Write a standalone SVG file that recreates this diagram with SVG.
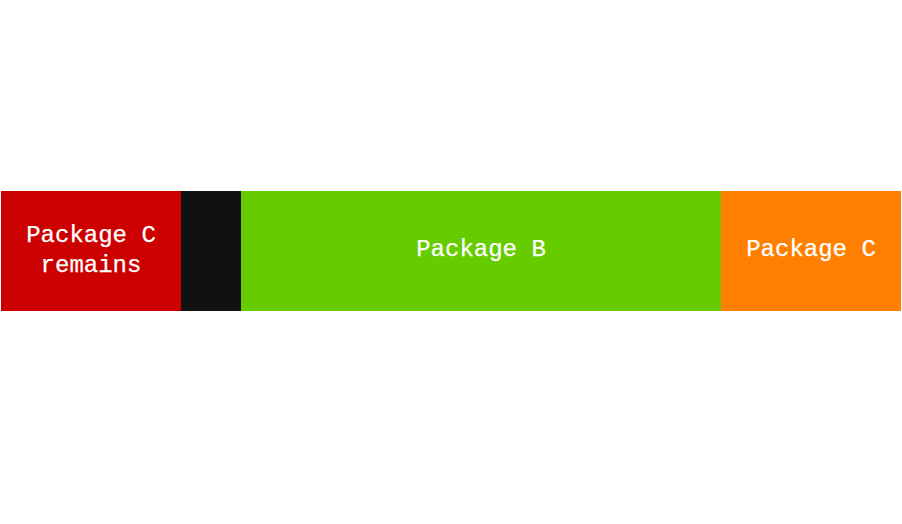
<svg xmlns="http://www.w3.org/2000/svg" width="902" height="524" viewBox="0 0 902 524">
<style>
text{font-family:"Liberation Mono","DejaVu Sans Mono",monospace;font-size:24px;fill:#ffffff;stroke:#ffffff;stroke-width:0.25;text-anchor:middle}
</style>
<rect width="902" height="524" fill="#ffffff"/>
<g id="c-remains"><rect x="1" y="191" width="180" height="120" fill="#cc0000"/><text x="91" y="242">Package C</text><text x="91" y="272">remains</text></g>
<g id="gap"><rect x="181" y="191" width="60" height="120" fill="#111111"/></g>
<g id="package-b"><rect x="241" y="191" width="480" height="120" fill="#66cc00"/><text x="481" y="256">Package B</text></g>
<g id="package-c"><rect x="721" y="191" width="180" height="120" fill="#ff8000"/><text x="811" y="256">Package C</text></g>
<g id="connectors"></g>
</svg>
